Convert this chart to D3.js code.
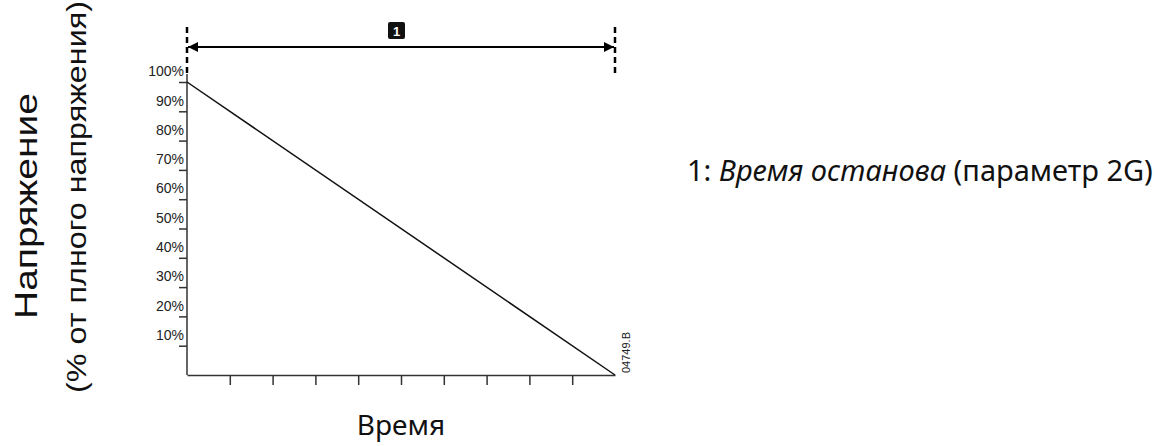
<!DOCTYPE html>
<html>
<head>
<meta charset="utf-8">
<script src="https://cdn.jsdelivr.net/npm/d3@7"></script>
<style>
  body { margin: 0; background: #fff; }
  svg { display: block; }
</style>
</head>
<body>
<svg id="chart" width="1172" height="446"></svg>
<script>
// данные
const yTicks = [10, 20, 30, 40, 50, 60, 70, 80, 90, 100];
const xTicks = [1, 2, 3, 4, 5, 6, 7, 8, 9];
const rampTime = [0, 10];
const rampVoltage = [100, 0];
const yTitle1 = "Напряжение";
const yTitle2 = "(% от плного напряжения)";
const xTitle = "Время";
const legendNum = "1: ";
const legendItalic = "Время останова";
const legendRest = " (параметр 2G)";
const drawingCode = "04749.B";

const svg = d3.select("#chart");

const x = d3.scaleLinear().domain([0, 10]).range([187, 615]);
const y = d3.scaleLinear().domain([0, 100]).range([375, 82]);

// оси
const yAxis = svg.append("g")
    .attr("transform", `translate(${x(0)}, 0)`)
    .call(d3.axisLeft(y).tickValues(yTicks).tickFormat((d) => d + "%").tickSize(8).tickSizeOuter(0));
yAxis.select(".domain").attr("stroke", "#333").attr("stroke-width", 1.5)
    .attr("d", `M0,${y(0)}V${y(100) - 8}`);
yAxis.selectAll(".tick line").attr("stroke", "#333").attr("stroke-width", 1.5);
yAxis.selectAll(".tick text")
    .attr("x", -3).attr("dy", "-0.45em")
    .attr("font-family", "Liberation Sans, Arial, sans-serif")
    .attr("font-size", 14).attr("fill", "#222");

const xAxis = svg.append("g")
    .attr("transform", `translate(0, ${y(0)})`)
    .call(d3.axisBottom(x).tickValues(xTicks).tickFormat("").tickSize(10).tickSizeOuter(0));
xAxis.select(".domain").attr("stroke", "#333").attr("stroke-width", 1.5);
xAxis.selectAll(".tick line").attr("stroke", "#333").attr("stroke-width", 1.5);

// линия
const line = d3.line()
    .x((d) => x(d.t))
    .y((d) => y(d.v));
const pts = rampTime.map((t, i) => ({ t: t, v: rampVoltage[i] }));
svg.append("path")
    .datum(pts)
    .attr("fill", "none")
    .attr("stroke", "#111")
    .attr("stroke-width", 1.5)
    .attr("d", line);

// размерная стрелка
const defs = svg.append("defs");
["arrEnd", "arrStart"].forEach((id, i) => {
    defs.append("marker")
        .attr("id", id)
        .attr("viewBox", "0 0 10 10")
        .attr("refX", 10).attr("refY", 5)
        .attr("markerWidth", 12).attr("markerHeight", 10)
        .attr("markerUnits", "userSpaceOnUse")
        .attr("orient", i === 0 ? "auto" : "auto-start-reverse")
        .append("path").attr("d", "M0,0L10,5L0,10Z").attr("fill", "#000");
});

const arrowY = 47;
[0, 10].forEach((t) => {
    svg.append("line")
        .attr("x1", x(t)).attr("x2", x(t))
        .attr("y1", 27).attr("y2", 75)
        .attr("stroke", "#000").attr("stroke-width", 2.5)
        .attr("stroke-dasharray", "6,4");
});
svg.append("line")
    .attr("x1", x(0) + 1).attr("x2", x(10) - 1)
    .attr("y1", arrowY).attr("y2", arrowY)
    .attr("stroke", "#000").attr("stroke-width", 2)
    .attr("marker-start", "url(#arrStart)")
    .attr("marker-end", "url(#arrEnd)");

const bx = (x(0) + x(10)) / 2 - 5;
svg.append("rect")
    .attr("x", bx - 8).attr("y", 22).attr("width", 17).attr("height", 17)
    .attr("rx", 2).attr("fill", "#111");
svg.append("text")
    .attr("x", bx + 0.5).attr("y", 35.5)
    .attr("text-anchor", "middle")
    .attr("font-family", "Liberation Sans, Arial, sans-serif")
    .attr("font-weight", "bold").attr("font-size", 13)
    .attr("fill", "#fff").text("1");

// подписи осей
const vFont = "Liberation Sans, Arial, sans-serif";
const titleFont = "Noto Sans, sans-serif";
svg.append("text")
    .attr("transform", "translate(37, 206) rotate(-90)")
    .attr("text-anchor", "middle")
    .attr("font-family", vFont).attr("font-size", 31).attr("fill", "#111")
    .attr("textLength", 226).attr("lengthAdjust", "spacingAndGlyphs")
    .text(yTitle1);
svg.append("text")
    .attr("transform", "translate(86, 197) rotate(-90)")
    .attr("text-anchor", "middle")
    .attr("font-family", vFont).attr("font-size", 27).attr("fill", "#111")
    .attr("textLength", 392).attr("lengthAdjust", "spacingAndGlyphs")
    .text(yTitle2);
svg.append("text")
    .attr("x", 401).attr("y", 435)
    .attr("text-anchor", "middle")
    .attr("font-family", titleFont).attr("font-size", 28).attr("fill", "#111")
    .text(xTitle);

// легенда
const leg = svg.append("text")
    .attr("x", 687).attr("y", 181)
    .attr("font-family", titleFont).attr("font-size", 29).attr("fill", "#111");
leg.append("tspan").text(legendNum);
leg.append("tspan").attr("font-style", "italic").text(legendItalic);
leg.append("tspan").text(legendRest);

// номер чертежа
svg.append("text")
    .attr("transform", `translate(${x(10) + 15}, ${y(0) - 2}) rotate(-90)`)
    .attr("font-family", "Liberation Sans, Arial, sans-serif")
    .attr("font-size", 11).attr("fill", "#222")
    .text(drawingCode);
</script>
</body>
</html>
